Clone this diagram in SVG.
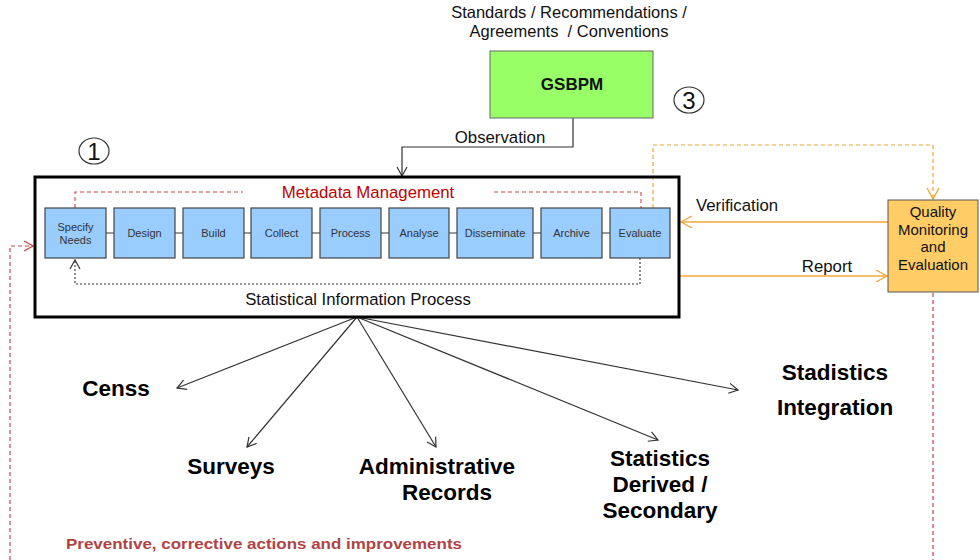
<svg xmlns="http://www.w3.org/2000/svg" width="980" height="560" viewBox="0 0 980 560">
<defs>
<style>
text{font-family:"Liberation Sans",Arial,sans-serif;}
.step rect{fill:#99CCFF;stroke:#444;stroke-width:1.2;}
.step text{font-size:11px;fill:#333;text-anchor:middle;}
.big{font-size:22.5px;font-weight:bold;fill:#000;text-anchor:middle;}
.lbl{font-size:16.8px;fill:#111;}
.blk{stroke:#333;stroke-width:1.2;fill:none;}
.org{stroke:#F0A838;stroke-width:1.5;fill:none;}
</style>
<marker id="ab" markerWidth="12" markerHeight="12" refX="10" refY="6" orient="auto" markerUnits="userSpaceOnUse"><path d="M1,1 L10,6 L1,11" fill="none" stroke="#333" stroke-width="1.2"/></marker>
<marker id="ao" markerWidth="14" markerHeight="14" refX="12" refY="7" orient="auto" markerUnits="userSpaceOnUse"><path d="M1,1 L12,7 L1,13" fill="none" stroke="#F0A838" stroke-width="1.4"/></marker>
<marker id="ar" markerWidth="12" markerHeight="12" refX="10" refY="6" orient="auto" markerUnits="userSpaceOnUse"><path d="M1,1 L10,6 L1,11" fill="none" stroke="#C04848" stroke-width="1.3"/></marker>
</defs>
<rect width="980" height="560" fill="#fff"/>

<g id="connectors">
<g stroke="#555" stroke-width="1.2">
<line x1="106" y1="233" x2="114" y2="233"/><line x1="175" y1="233" x2="183" y2="233"/><line x1="244" y1="233" x2="251" y2="233"/><line x1="312" y1="233" x2="320" y2="233"/><line x1="381" y1="233" x2="389" y2="233"/><line x1="449" y1="233" x2="457" y2="233"/><line x1="533" y1="233" x2="541" y2="233"/><line x1="602" y1="233" x2="610" y2="233"/>
</g>
<polyline points="75,208 75,192 243,192" fill="none" stroke="#D04050" stroke-width="1.1" stroke-dasharray="4,3"/>
<polyline points="494,192 641,192 641,208" fill="none" stroke="#D04050" stroke-width="1.1" stroke-dasharray="4,3"/>
<polyline points="640,258 640,284 75,284 75,260" fill="none" stroke="#333" stroke-width="1.1" stroke-dasharray="2,2" marker-end="url(#ab)"/>
<polyline points="573,118 573,147 402,147 402,176" class="blk" marker-end="url(#ab)"/>
<line x1="888" y1="222" x2="681" y2="222" class="org" marker-end="url(#ao)"/>
<line x1="679" y1="276" x2="887" y2="276" class="org" marker-end="url(#ao)"/>
<polyline points="653,208 653,145 933,145 933,199" fill="none" stroke="#F0A838" stroke-width="1.2" stroke-dasharray="4,3" marker-end="url(#ao)"/>
<line x1="933" y1="293" x2="933" y2="560" stroke="#C04848" stroke-width="1.2" stroke-dasharray="4,3"/>
<polyline points="10,560 10,246 33,246" fill="none" stroke="#C04848" stroke-width="1.2" stroke-dasharray="4,3" marker-end="url(#ar)"/>
<g class="blk">
<line x1="357" y1="317" x2="177" y2="388" marker-end="url(#ab)"/>
<line x1="357" y1="317" x2="247" y2="447" marker-end="url(#ab)"/>
<line x1="357" y1="317" x2="436" y2="447" marker-end="url(#ab)"/>
<line x1="357" y1="317" x2="658" y2="440" marker-end="url(#ab)"/>
<line x1="357" y1="317" x2="738" y2="390" marker-end="url(#ab)"/>
</g>
<text x="500" y="143" class="lbl" text-anchor="middle">Observation</text>
<text x="696" y="211" class="lbl">Verification</text>
<text x="827" y="272" class="lbl" text-anchor="middle">Report</text>
</g>

<g id="process">
<rect x="35" y="177" width="644" height="140" fill="none" stroke="#000" stroke-width="3"/>
<text x="368" y="198" font-size="16.8" fill="#C00000" text-anchor="middle">Metadata Management</text>
<text x="358" y="305" font-size="16.8" fill="#111" text-anchor="middle">Statistical Information Process</text>
</g>
<g id="s1" class="step"><rect x="45" y="208" width="61" height="50"/><text x="75.5" y="231">Specify</text><text x="75.5" y="244">Needs</text></g>
<g id="s2" class="step"><rect x="114" y="208" width="61" height="50"/><text x="144.5" y="237">Design</text></g>
<g id="s3" class="step"><rect x="183" y="208" width="61" height="50"/><text x="213.5" y="237">Build</text></g>
<g id="s4" class="step"><rect x="251" y="208" width="61" height="50"/><text x="281.5" y="237">Collect</text></g>
<g id="s5" class="step"><rect x="320" y="208" width="61" height="50"/><text x="350.5" y="237">Process</text></g>
<g id="s6" class="step"><rect x="389" y="208" width="60" height="50"/><text x="419" y="237">Analyse</text></g>
<g id="s7" class="step"><rect x="457" y="208" width="76" height="50"/><text x="495" y="237">Disseminate</text></g>
<g id="s8" class="step"><rect x="541" y="208" width="61" height="50"/><text x="571.5" y="237">Archive</text></g>
<g id="s9" class="step"><rect x="610" y="208" width="60" height="50"/><text x="640" y="237">Evaluate</text></g>

<g id="gsbpm">
<text x="569" y="18" font-size="16.5" fill="#111" text-anchor="middle">Standards / Recommendations /</text>
<text x="569" y="37" font-size="16.5" fill="#111" text-anchor="middle" xml:space="preserve">Agreements  / Conventions</text>
<rect x="490" y="51" width="163" height="67" fill="#99FF66" stroke="#666" stroke-width="1"/>
<text x="572" y="90" font-size="17" font-weight="bold" fill="#111" text-anchor="middle">GSBPM</text>
</g>
<g id="n3"><ellipse cx="689" cy="100" rx="15" ry="13" fill="none" stroke="#333" stroke-width="1.2"/><text x="689" y="109" font-size="24" fill="#111" text-anchor="middle">3</text></g>
<g id="n1"><ellipse cx="94" cy="151" rx="15" ry="13" fill="none" stroke="#333" stroke-width="1.2"/><text x="94" y="160" font-size="24" fill="#111" text-anchor="middle">1</text></g>

<g id="quality">
<rect x="888" y="200" width="90" height="92" fill="#FFCC66" stroke="#555" stroke-width="1"/>
<g font-size="15" fill="#111" text-anchor="middle">
<text x="933" y="217">Quality</text><text x="933" y="234.5">Monitoring</text><text x="933" y="252">and</text><text x="933" y="269.5">Evaluation</text>
</g>
</g>

<g id="censs"><text x="116" y="396" class="big">Censs</text></g>
<g id="surveys"><text x="231" y="474" class="big">Surveys</text></g>
<g id="admin"><text x="437" y="474" class="big">Administrative</text><text x="447" y="500" class="big">Records</text></g>
<g id="derived"><text x="660" y="466" class="big">Statistics</text><text x="660" y="492" class="big">Derived /</text><text x="660" y="518" class="big">Secondary</text></g>
<g id="integration"><text x="835" y="380" class="big">Stadistics</text><text x="835" y="415" class="big">Integration</text></g>

<g id="actions"><text x="66" y="549" font-size="15" font-weight="bold" fill="#B04444" textLength="396" lengthAdjust="spacingAndGlyphs">Preventive, corrective actions and improvements</text></g>
</svg>
